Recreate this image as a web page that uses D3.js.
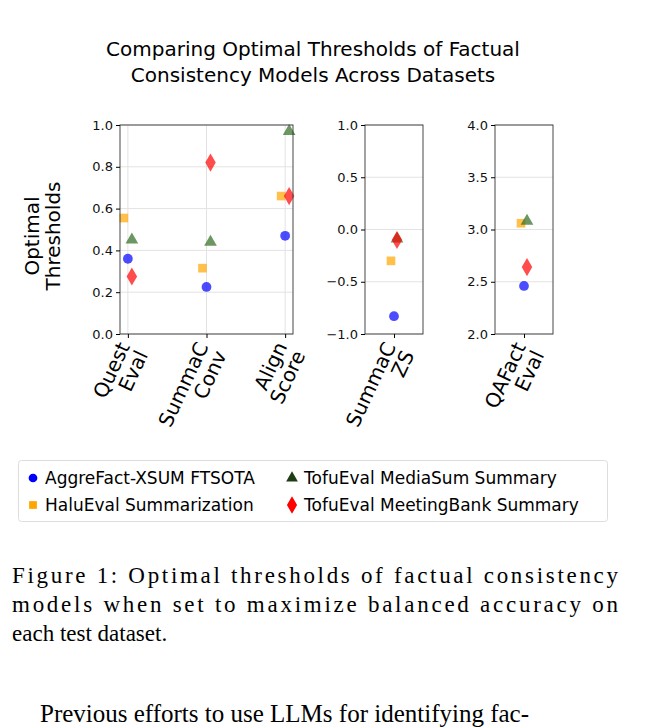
<!DOCTYPE html><html><head><meta charset="utf-8"><script src="https://cdn.jsdelivr.net/npm/d3@7"></script>
<style>body{margin:0;background:#fff}text{font-family:"DejaVu Sans"}</style></head><body>
<svg id="c" width="645" height="728"></svg>
<script>
const series=["AggreFact-XSUM FTSOTA","HaluEval Summarization","TofuEval MediaSum Summary","TofuEval MeetingBank Summary"];
const colors=["#0000ff","#ffa500","#2e6b1f","#ff0000"];
const shapes=[d3.symbolCircle,d3.symbolSquare,d3.symbolTriangle,d3.symbolDiamond];
const p1Cats=["Quest\nEval","SummaC\nConv","Align\nScore"];
const p1Vals=[[0.36,0.225,0.47],[0.555,0.315,0.66],[0.45,0.44,0.97],[0.275,0.82,0.66]];
const p2Cats=["SummaC\nZS"]; const p2Vals=[[-0.83],[-0.30],[-0.09],[-0.10]];
const p3Cats=["QAFact\nEval"]; const p3Vals=[[2.46],[3.06],[3.08],[2.64]];
const jitter=[0,-0.5,0.5,0.5];
const svg=d3.select("#c");
svg.append("text").attr("x",313).attr("y",56).attr("text-anchor","middle").attr("font-size",20).text("Comparing Optimal Thresholds of Factual");
svg.append("text").attr("x",313).attr("y",82).attr("text-anchor","middle").attr("font-size",20).text("Consistency Models Across Datasets");
const yl=svg.append("text").attr("transform","translate(42,236) rotate(-90)").attr("text-anchor","middle").attr("font-size",20);
yl.append("tspan").attr("x",0).attr("dy","-0.15em").text("Optimal");
yl.append("tspan").attr("x",0).attr("dy","1.05em").text("Thresholds");
const yTop=125,yBot=334;
function panel(x0,x1,cats,vals,dom,ticks,fmt,xgrid){
  const g=svg.append("g");
  const x=d3.scalePoint().domain(cats).range([x0,x1]).padding(cats.length>1?0.1:0.5);
  const jw=cats.length>1?8:6;
  const y=d3.scaleLinear().domain(dom).range([yBot,yTop]);
  g.selectAll(".gy").data(ticks).join("line").attr("x1",x0).attr("x2",x1).attr("y1",d=>y(d)).attr("y2",d=>y(d)).attr("stroke","#e3e3e3");
  if(xgrid)g.selectAll(".gx").data(cats).join("line").attr("x1",d=>x(d)).attr("x2",d=>x(d)).attr("y1",yTop).attr("y2",yBot).attr("stroke","#e3e3e3");
  vals.forEach((s,i)=>s.forEach((v,j)=>{
    g.append("path").attr("d",d3.symbol(shapes[i],i==3?95:i==2?70:75)()).attr("fill",colors[i]).attr("opacity",0.7)
     .attr("transform",`translate(${x(cats[j])+jitter[i]*jw},${y(v)})`);
  }));
  g.append("rect").attr("x",x0).attr("y",yTop).attr("width",x1-x0).attr("height",yBot-yTop).attr("fill","none").attr("stroke","#333").attr("stroke-width",0.9);
  const ay=g.append("g").attr("transform",`translate(${x0},0)`).call(d3.axisLeft(y).tickValues(ticks).tickFormat(fmt).tickSize(4));
  ay.select(".domain").remove(); ay.selectAll("text").attr("font-size",13).attr("fill","#111").style("font-family","DejaVu Sans");
  const ax=g.append("g").attr("transform",`translate(0,${yBot})`).call(d3.axisBottom(x).tickSize(4).tickFormat(""));
  ax.select(".domain").remove();
  cats.forEach(c=>{
    const t=g.append("text").attr("transform",`translate(${x(c)+6},${yBot+14}) rotate(-65)`).attr("text-anchor","end").attr("font-size",20);
    const ls=c.split("\n");
    t.append("tspan").attr("x",0).attr("dy","-0.2em").text(ls[0]);
    t.append("tspan").attr("x",0).attr("dy","1.0em").text(ls[1]);
  });
}
const m=d3.format(".1f");
panel(120,293,p1Cats,p1Vals,[0,1],[0,0.2,0.4,0.6,0.8,1.0],m,true);
panel(365,423,p2Cats,p2Vals,[-1,1],[-1,-0.5,0,0.5,1],d=>m(d).replace("-","−"),false);
panel(495,553,p3Cats,p3Vals,[2,4],[2,2.5,3,3.5,4],m,false);
svg.append("rect").attr("x",18.5).attr("y",460.5).attr("width",589).attr("height",61).attr("rx",3).attr("fill","none").attr("stroke","#ddd");
const lp=[[33,478],[33,505],[292,478],[292,505]];
[0,1,2,3].forEach(i=>{
  svg.append("path").attr("d",d3.symbol(shapes[i],i==3?90:60)()).attr("fill",i==2?"#1f3d14":colors[i]).attr("transform",`translate(${lp[i][0]},${lp[i][1]})`);
  svg.append("text").attr("x",lp[i][0]+12).attr("y",lp[i][1]+6).attr("font-size",17).text(series[i]);
});
const cap=["Figure 1:  Optimal thresholds of factual consistency","models when set to maximize balanced accuracy on","each test dataset."];
cap.forEach((t,i)=>svg.append("text").attr("x",12).attr("y",583+i*29).attr("font-size",23).style("font-family","Liberation Serif").attr("textLength",i<2?606:null).text(t));
svg.append("text").attr("x",40).attr("y",722).attr("font-size",25).style("font-family","Liberation Serif").text("Previous efforts to use LLMs for identifying fac-");
</script></body></html>
